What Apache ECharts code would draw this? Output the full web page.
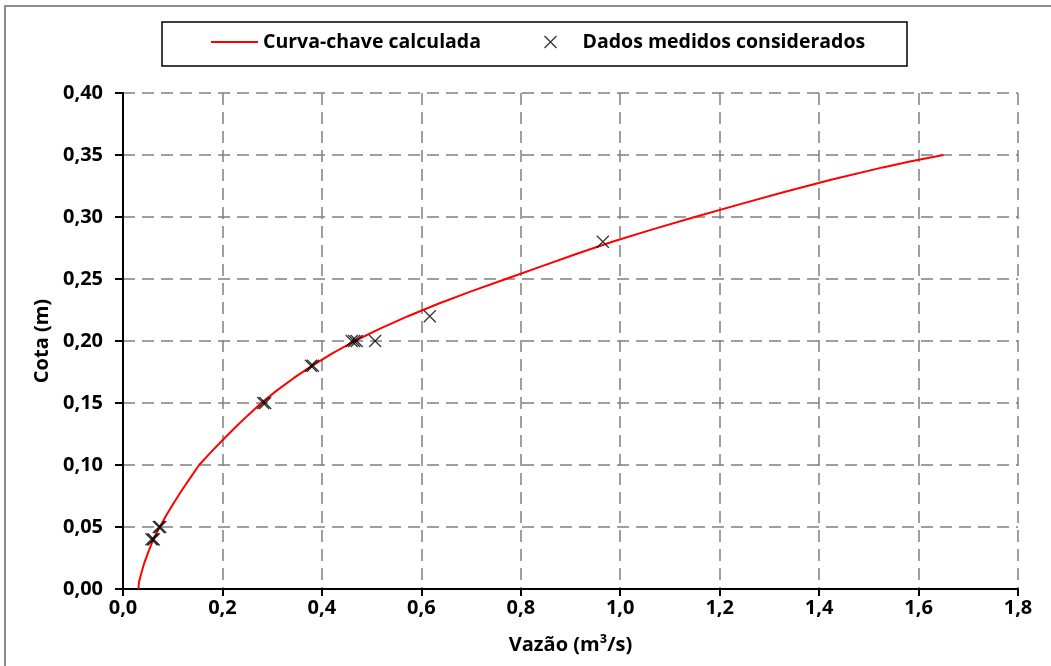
<!DOCTYPE html>
<html>
<head>
<meta charset="utf-8">
<script src="https://cdn.jsdelivr.net/npm/echarts@6/dist/echarts.min.js"></script>
<style>
    html, body { margin: 0; padding: 0; background: #fff; }
    #chart { width: 1051px; height: 666px; }
</style>
</head>
<body>
<div id="chart"></div>
<script>
    // curva-chave (vazao x cota)
    const curveH = [0.000, 0.005, 0.010, 0.020, 0.030, 0.040, 0.050, 0.060, 0.070, 0.080, 0.090, 0.100,
        0.110, 0.120, 0.130, 0.140, 0.150, 0.160, 0.170, 0.180, 0.190, 0.200, 0.210, 0.220, 0.230,
        0.240, 0.250, 0.260, 0.270, 0.280, 0.290, 0.300, 0.310, 0.320, 0.330, 0.340, 0.345, 0.350];
    const curveQ = [0.031, 0.032, 0.035, 0.042, 0.051, 0.061, 0.074, 0.088, 0.103, 0.119, 0.136, 0.153,
        0.176, 0.200, 0.225, 0.251, 0.278, 0.309, 0.343, 0.380, 0.421, 0.466, 0.517, 0.573, 0.634,
        0.700, 0.770, 0.840, 0.910, 0.984, 1.065, 1.150, 1.238, 1.328, 1.424, 1.528, 1.585, 1.650];

    // dados medidos (alguns repetidos / sobrepostos)
    const measQ = [0.057, 0.060, 0.062, 0.072, 0.075, 0.282, 0.286, 0.378, 0.382, 0.460, 0.465, 0.470, 0.507, 0.617, 0.965];
    const measH = [0.040, 0.040, 0.040, 0.050, 0.050, 0.150, 0.150, 0.180, 0.180, 0.200, 0.200, 0.200, 0.200, 0.220, 0.280];

    const xTicks = { min: 0, max: 1.8, step: 0.2 };
    const yTicks = { min: 0, max: 0.4, step: 0.05 };

    const font = "'Open Sans', 'Liberation Sans', sans-serif";
    const gridLine = { show: true, lineStyle: { color: '#808080', width: 1.5, type: [12, 7] } };
    const boldText = { fontFamily: font, fontWeight: 'bold', color: '#000' };

    let chart = echarts.init(document.getElementById('chart'), null, { renderer: 'canvas' });
    let option = {
        animation: false,
        textStyle: boldText,
        graphic: [
            {
                type: 'rect', z: -1,
                shape: { x: 5, y: 6, width: 1100, height: 720 },
                style: { fill: 'none', stroke: '#8c8c8c', lineWidth: 2 }
            },
            {
                type: 'rect',
                shape: { x: 162, y: 22, width: 745, height: 44 },
                style: { fill: 'none', stroke: '#000', lineWidth: 1.5 }
            }
        ],
        legend: [
            {
                data: ['Curva-chave calculada'],
                left: 211, top: 32, padding: 0,
                icon: 'rect',
                itemWidth: 47, itemHeight: 2,
                textStyle: Object.assign({ fontSize: 19.5 }, boldText)
            },
            {
                data: ['Dados medidos considerados'],
                left: 542, top: 32, padding: 0,
                itemWidth: 12, itemHeight: 12,
                itemStyle: { color: 'none', borderColor: '#000', borderWidth: 1.3 },
                textStyle: Object.assign({ fontSize: 19.5, padding: [0, 0, 0, 21] }, boldText)
            }
        ],
        grid: { left: 123, right: 33, top: 93, bottom: 77 },
        xAxis: {
            type: 'value',
            min: xTicks.min, max: xTicks.max, interval: xTicks.step,
            name: 'Vazão (m³/s)',
            nameLocation: 'middle',
            nameGap: 46,
            nameTextStyle: Object.assign({ fontSize: 20 }, boldText),
            axisLine: { lineStyle: { color: '#000', width: 2 } },
            axisTick: { show: true, length: 7, lineStyle: { color: '#000', width: 2 } },
            axisLabel: Object.assign({
                margin: 9, fontSize: 20,
                formatter: v => v.toFixed(1).replace('.', ',')
            }, boldText),
            splitLine: gridLine
        },
        yAxis: {
            type: 'value',
            min: yTicks.min, max: yTicks.max, interval: yTicks.step,
            name: 'Cota (m)',
            nameLocation: 'middle',
            nameGap: 71,
            nameTextStyle: Object.assign({ fontSize: 20 }, boldText),
            axisLine: { show: true, lineStyle: { color: '#000', width: 2 } },
            axisTick: { show: true, length: 8, lineStyle: { color: '#000', width: 2 } },
            axisLabel: Object.assign({
                margin: 20, fontSize: 20,
                formatter: v => v.toFixed(2).replace('.', ',')
            }, boldText),
            splitLine: gridLine
        },
        series: [
            {
                name: 'Curva-chave calculada',
                type: 'line',
                data: curveQ.map((q, i) => [q, curveH[i]]),
                symbol: 'none',
                lineStyle: { color: '#ff0000', width: 2 },
                itemStyle: { color: '#ff0000' },
                z: 2
            },
            {
                name: 'Dados medidos considerados',
                type: 'scatter',
                data: measQ.map((q, i) => [q, measH[i]]),
                symbol: 'path://M0,0L10,10M10,0L0,10',
                symbolSize: 12,
                itemStyle: { color: 'none', borderColor: '#000', borderWidth: 1.3 },
                z: 3
            }
        ]
    };
    chart.setOption(option);
</script>
</body>
</html>
